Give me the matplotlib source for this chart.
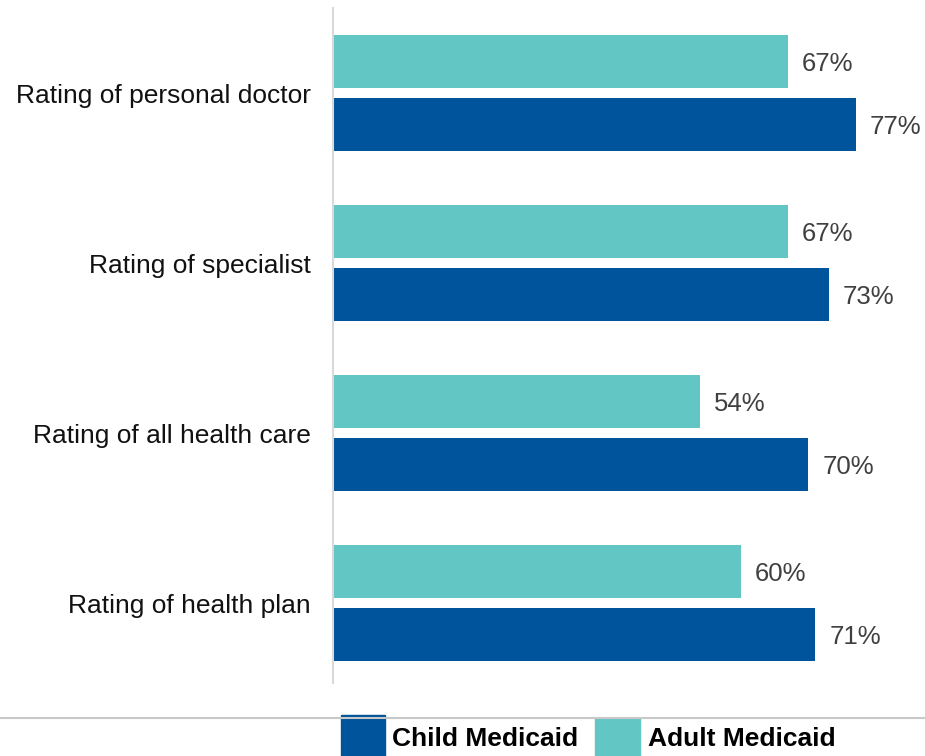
import numpy as np
import matplotlib.pyplot as plt
from matplotlib.patches import Rectangle
from matplotlib.lines import Line2D

plt.rcParams['font.family'] = ['Liberation Sans', 'DejaVu Sans']

# data
categories = ['Rating of personal doctor', 'Rating of specialist',
              'Rating of all health care', 'Rating of health plan']
adult = [67, 67, 54, 60]
child = [77, 73, 70, 71]

teal = '#62c6c4'
navy = '#00549c'

fig = plt.figure(figsize=(9.25, 7.56), dpi=100)
W, H = 925.0, 756.0
ax = fig.add_axes([333 / W, 1 - 688 / H, 592 / W, 680 / H])

y = np.arange(len(categories))
bh = 53 / 170.0
off = 31.5 / 170.0
ax.barh(y - off, adult, height=bh, color=teal)
ax.barh(y + off, child, height=bh, color=navy)

gap = 14 / 6.792
nudge = 2.5 / 170.0  # labels sit slightly below bar centre
for i in range(len(categories)):
    ax.text(adult[i] + gap, y[i] - off + nudge, '%d%%' % adult[i], va='center',
            ha='left', fontsize=18.5, color='#404040')
    ax.text(child[i] + gap, y[i] + off + nudge, '%d%%' % child[i], va='center',
            ha='left', fontsize=18.5, color='#404040')

ax.set_xlim(0, 592 / 6.792)
ax.set_ylim(3.5, -0.5)
ax.set_yticks(y)
ax.set_yticklabels(categories, fontsize=19, color='#111111')
ax.tick_params(axis='y', length=0, pad=16)
ax.set_xticks([])
for s in ['top', 'right', 'bottom']:
    ax.spines[s].set_visible(False)
ax.spines['left'].set_color('#d9d9d9')
ax.spines['left'].set_linewidth(1.5)
ax.spines['left'].set_bounds(3.47, -0.5)

# bottom rule and legend
fig.add_artist(Line2D([0, 1], [1 - 717.5 / H] * 2, color='#c8c8c8', lw=1.5,
                      transform=fig.transFigure))
fig.add_artist(Rectangle((341 / W, 0), 44 / W, 41 / H, color=navy,
                         transform=fig.transFigure))
fig.add_artist(Rectangle((595 / W, 0), 45 / W, 38.5 / H, color=teal,
                         transform=fig.transFigure))
fig.text(392 / W, 1 - 739 / H, 'Child Medicaid', fontsize=19, fontweight='bold',
         va='center', ha='left', color='black')
fig.text(648 / W, 1 - 739 / H, 'Adult Medicaid', fontsize=19, fontweight='bold',
         va='center', ha='left', color='black')

fig.savefig('out.png', dpi=100, facecolor='white')
